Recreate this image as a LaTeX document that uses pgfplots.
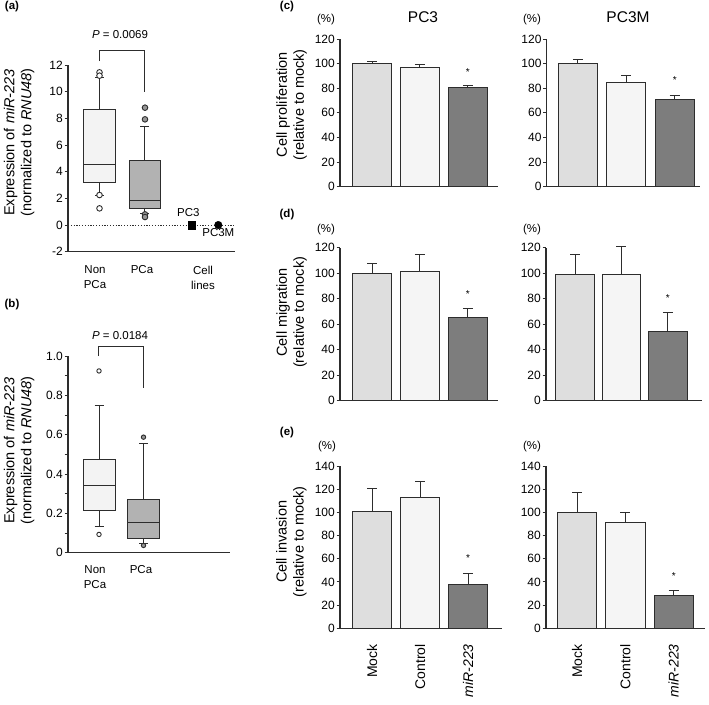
\documentclass[border=0pt]{standalone}
\usepackage{fontspec}
\setmainfont{Liberation Sans}
\usepackage{pgfplots}
\pgfplotsset{compat=1.18}
\usepgfplotslibrary{statistics}
\definecolor{edge}{RGB}{45,45,45}
\definecolor{mockc}{RGB}{222,222,222}
\definecolor{ctrlc}{RGB}{245,245,245}
\definecolor{mirc}{RGB}{125,125,125}
\definecolor{boxa}{RGB}{243,243,243}
\definecolor{boxb}{RGB}{178,178,178}
\definecolor{outb}{RGB}{150,150,150}
\newcommand\fs[2]{\fontsize{#1pt}{#2pt}\selectfont}
\tikzset{sigstar/.style={font=\fs{10}{10}, yshift=-2pt}}
\pgfplotsset{
  panel/.style={
    scale only axis, clip=false, axis on top,
    axis x line=bottom, axis y line=left,
    axis line style={-, line width=1.2pt, draw=edge},
    ytick style={line width=0.9pt, draw=edge},
    xtick style={draw=none},
    tick align=outside, major tick length=3.5pt,
    yticklabel style={font=\fs{12}{14}, inner sep=1.5pt},
    xticklabel style={font=\fs{12}{15}},
    ylabel style={font=\fs{14.5}{17}, align=center, anchor=center},
    /pgf/number format/assume math mode=true,
    anchor=south west,
  },
  barpanel/.style={panel, ymin=0, xtick=\empty},
  bars/.style={ybar, bar shift=0pt, draw=edge, line width=1pt,
    error bars/y dir=plus, error bars/y explicit,
    error bars/error bar style={line width=1pt, draw=edge},
    error bars/error mark options={rotate=90, mark size=5pt, line width=1pt, draw=edge}},
  vbox/.style={draw=edge, line width=1pt, boxplot/draw direction=y},
}
\begin{document}
\begin{tikzpicture}
\useasboundingbox (0,0) rectangle (709pt,-704pt);
% panel labels and titles
\node[font=\fs{11.5}{12}\bfseries] at (12pt,-7pt) {(a)};
\node[font=\fs{11.5}{12}\bfseries] at (12pt,-305pt) {(b)};
\node[font=\fs{11.5}{12}\bfseries] at (287pt,-7pt) {(c)};
\node[font=\fs{11.5}{12}\bfseries] at (287pt,-215pt) {(d)};
\node[font=\fs{11.5}{12}\bfseries] at (287pt,-433pt) {(e)};
\node[font=\fs{15.5}{16}] at (423pt,-17pt) {PC3};
\node[font=\fs{15.5}{16}] at (628pt,-17pt) {PC3M};
\node[font=\fs{11.5}{12}] at (326pt,-20pt) {(\%)};
\node[font=\fs{11.5}{12}] at (532pt,-20pt) {(\%)};
\node[font=\fs{11.5}{12}] at (326pt,-230pt) {(\%)};
\node[font=\fs{11.5}{12}] at (532pt,-230pt) {(\%)};
\node[font=\fs{11.5}{12}] at (327pt,-446.7pt) {(\%)};
\node[font=\fs{11.5}{12}] at (532pt,-446.7pt) {(\%)};

% (a)
\begin{axis}[panel, at={(68pt,-251.7pt)}, width=167pt, height=186.7pt,
  xmin=0, xmax=3.711, ymin=-2, ymax=12, ytick={-2,0,...,12},
  xtick={0.6,1.644,3.0}, xticklabels={Non\\PCa,PCa,Cell\\lines},
  xticklabel style={align=center, font=\fs{11.5}{15}, yshift=-7pt},
  ylabel={Expression of \textit{miR-223}\\(normalized to \textit{RNU48})},
  ylabel style={at={(axis description cs:-0.293,0.585)}},
]
\addplot[draw=edge, line width=1pt, dash pattern=on 1.2pt off 1.6pt] coordinates {(0,0) (3.711,0)};
\addplot[vbox, fill=boxa, boxplot prepared={draw position=0.7, box extend=0.733, whisker extend=0.2, lower whisker=2.25, lower quartile=3.2, median=4.55, upper quartile=8.675, upper whisker=11.05}] coordinates {};
\addplot[vbox, fill=boxb, boxplot prepared={draw position=1.711, box extend=0.711, whisker extend=0.2, lower whisker=0.85, lower quartile=1.25, median=1.825, upper quartile=4.875, upper whisker=7.375}] coordinates {};
\addplot[only marks, mark=*, mark size=2.8pt, mark options={draw=edge, line width=0.9pt, fill=white}] coordinates {(0.7,11.45) (0.7,11.2) (0.7,2.25) (0.7,1.25)};
\addplot[only marks, mark=*, mark size=2.8pt, mark options={draw=edge, line width=0.9pt, fill=outb}] coordinates {(1.711,8.8) (1.711,7.925) (1.711,0.8) (1.711,0.6)};
\addplot[only marks, mark=square*, mark size=3.8pt, mark options={draw=black, fill=black}] coordinates {(2.749,0)};
\addplot[only marks, mark=*, mark size=3.8pt, mark options={draw=black, fill=black}] coordinates {(3.34,0)};
\addplot[draw=edge, line width=1pt] coordinates {(0.7,12.3) (0.7,13.07) (1.711,13.07) (1.711,10)};
\node[font=\fs{11.5}{12}] at (axis cs:1.156,14.25) {\textit{P} = 0.0069};
\node[font=\fs{11.5}{12}] at (axis cs:2.673,0.92) {PC3};
\node[font=\fs{11.5}{12}] at (axis cs:3.34,-0.55) {PC3M};
\end{axis}

% (b)
\begin{axis}[panel, at={(68pt,-552.7pt)}, width=162pt, height=196.5pt,
  xmin=0, xmax=3.6, ymin=0, ymax=1, ytick={0,0.1,0.2,0.3,0.4,0.5,0.6,0.7,0.8,0.9,1.0},
  yticklabels={0,,0.2,,0.4,,0.6,,0.8,,1.0},
  xtick={0.6,1.622}, xticklabels={Non\\PCa,PCa},
  xticklabel style={align=center, font=\fs{11.5}{15}, yshift=-6pt},
  ylabel={Expression of \textit{miR-223}\\(normalized to \textit{RNU48})},
  ylabel style={at={(axis description cs:-0.302,0.52)}},
]
\addplot[vbox, fill=boxa, boxplot prepared={draw position=0.689, box extend=0.711, whisker extend=0.2, lower whisker=0.132, lower quartile=0.2136, median=0.344, upper quartile=0.4746, upper whisker=0.751}] coordinates {};
\addplot[vbox, fill=boxb, boxplot prepared={draw position=1.678, box extend=0.711, whisker extend=0.2, lower whisker=0.045, lower quartile=0.073, median=0.1525, upper quartile=0.271, upper whisker=0.556}] coordinates {};
\addplot[only marks, mark=*, mark size=2.2pt, mark options={draw=edge, line width=0.9pt, fill=white}] coordinates {(0.689,0.925) (0.689,0.093)};
\addplot[only marks, mark=*, mark size=2.2pt, mark options={draw=edge, line width=0.9pt, fill=outb}] coordinates {(1.678,0.588) (1.678,0.037)};
\addplot[draw=edge, line width=1pt] coordinates {(0.667,1.0) (0.667,1.048) (1.678,1.048) (1.678,0.839)};
\node[font=\fs{11.5}{12}] at (axis cs:1.156,1.107) {\textit{P} = 0.0184};
\end{axis}

% (c) PC3
\begin{axis}[barpanel, at={(340pt,-186.7pt)}, width=158pt, height=147.7pt,
  xmin=-0.67, xmax=2.63, ymax=120, ytick={0,20,...,120}, bar width=0.815,
  ylabel={Cell proliferation\\(relative to mock)},
  ylabel style={at={(axis description cs:-0.307,0.554)}}]
\addplot[bars, fill=mockc] coordinates {(0,100.5) +- (0,1.5)};
\addplot[bars, fill=ctrlc] coordinates {(1,96.5) +- (0,3)};
\addplot[bars, fill=mirc] coordinates {(2,80.5) +- (0,2)};
\node[sigstar] at (axis cs:2,95) {*};
\end{axis}
% (c) PC3M
\begin{axis}[barpanel, at={(546.7pt,-186.7pt)}, width=153.3pt, height=147.7pt,
  xmin=-0.647, xmax=2.523, ymax=120, ytick={0,20,...,120}, bar width=0.81]
\addplot[bars, fill=mockc] coordinates {(0,100.5) +- (0,2.5)};
\addplot[bars, fill=ctrlc] coordinates {(1,85) +- (0,5.5)};
\addplot[bars, fill=mirc] coordinates {(2,71) +- (0,3.5)};
\node[sigstar] at (axis cs:2,88) {*};
\end{axis}

% (d) PC3
\begin{axis}[barpanel, at={(340pt,-400.7pt)}, width=158pt, height=153pt,
  xmin=-0.67, xmax=2.63, ymax=120, ytick={0,20,...,120}, bar width=0.815,
  ylabel={Cell migration\\(relative to mock)},
  ylabel style={at={(axis description cs:-0.307,0.578)}}]
\addplot[bars, fill=mockc] coordinates {(0,100) +- (0,8)};
\addplot[bars, fill=ctrlc] coordinates {(1,101.5) +- (0,13)};
\addplot[bars, fill=mirc] coordinates {(2,65.5) +- (0,7)};
\node[sigstar] at (axis cs:2,85) {*};
\end{axis}
% (d) PC3M
\begin{axis}[barpanel, at={(546pt,-400.7pt)}, width=155.7pt, height=153pt,
  xmin=-0.625, xmax=2.73, ymax=120, ytick={0,20,...,120}, bar width=0.836]
\addplot[bars, fill=mockc] coordinates {(0,99.2) +- (0,15.3)};
\addplot[bars, fill=ctrlc] coordinates {(1,99.2) +- (0,21.8)};
\addplot[bars, fill=mirc] coordinates {(2,54.5) +- (0,14.4)};
\node[sigstar] at (axis cs:2,82) {*};
\end{axis}

% (e) PC3
\begin{axis}[barpanel, at={(340pt,-628.3pt)}, width=161.7pt, height=162.3pt,
  xmin=-0.667, xmax=2.70, ymax=140, ytick={0,20,...,140}, bar width=0.817,
  xtick={0,1,2}, xticklabels={Mock,Control,\textit{miR-223}},
  xticklabel style={yshift=-9pt, rotate=90, anchor=east, font=\fs{14}{14}},
  ylabel={Cell invasion\\(relative to mock)},
  ylabel style={at={(axis description cs:-0.30,0.533)}}]
\addplot[bars, fill=mockc] coordinates {(0,100.6) +- (0,20.1)};
\addplot[bars, fill=ctrlc] coordinates {(1,113) +- (0,13.5)};
\addplot[bars, fill=mirc] coordinates {(2,37.4) +- (0,10)};
\node[sigstar] at (axis cs:2,62) {*};
\end{axis}
% (e) PC3M
\begin{axis}[barpanel, at={(546pt,-628.3pt)}, width=159pt, height=162.3pt,
  xmin=-0.641, xmax=2.647, ymax=140, ytick={0,20,...,140}, bar width=0.815,
  xtick={0,1,2}, xticklabels={Mock,Control,\textit{miR-223}},
  xticklabel style={yshift=-9pt, rotate=90, anchor=east, font=\fs{14}{14}}]
\addplot[bars, fill=mockc] coordinates {(0,100) +- (0,17.3)};
\addplot[bars, fill=ctrlc] coordinates {(1,91.1) +- (0,8.6)};
\addplot[bars, fill=mirc] coordinates {(2,28.2) +- (0,4.8)};
\node[sigstar] at (axis cs:2,46.5) {*};
\end{axis}
\end{tikzpicture}
\end{document}
